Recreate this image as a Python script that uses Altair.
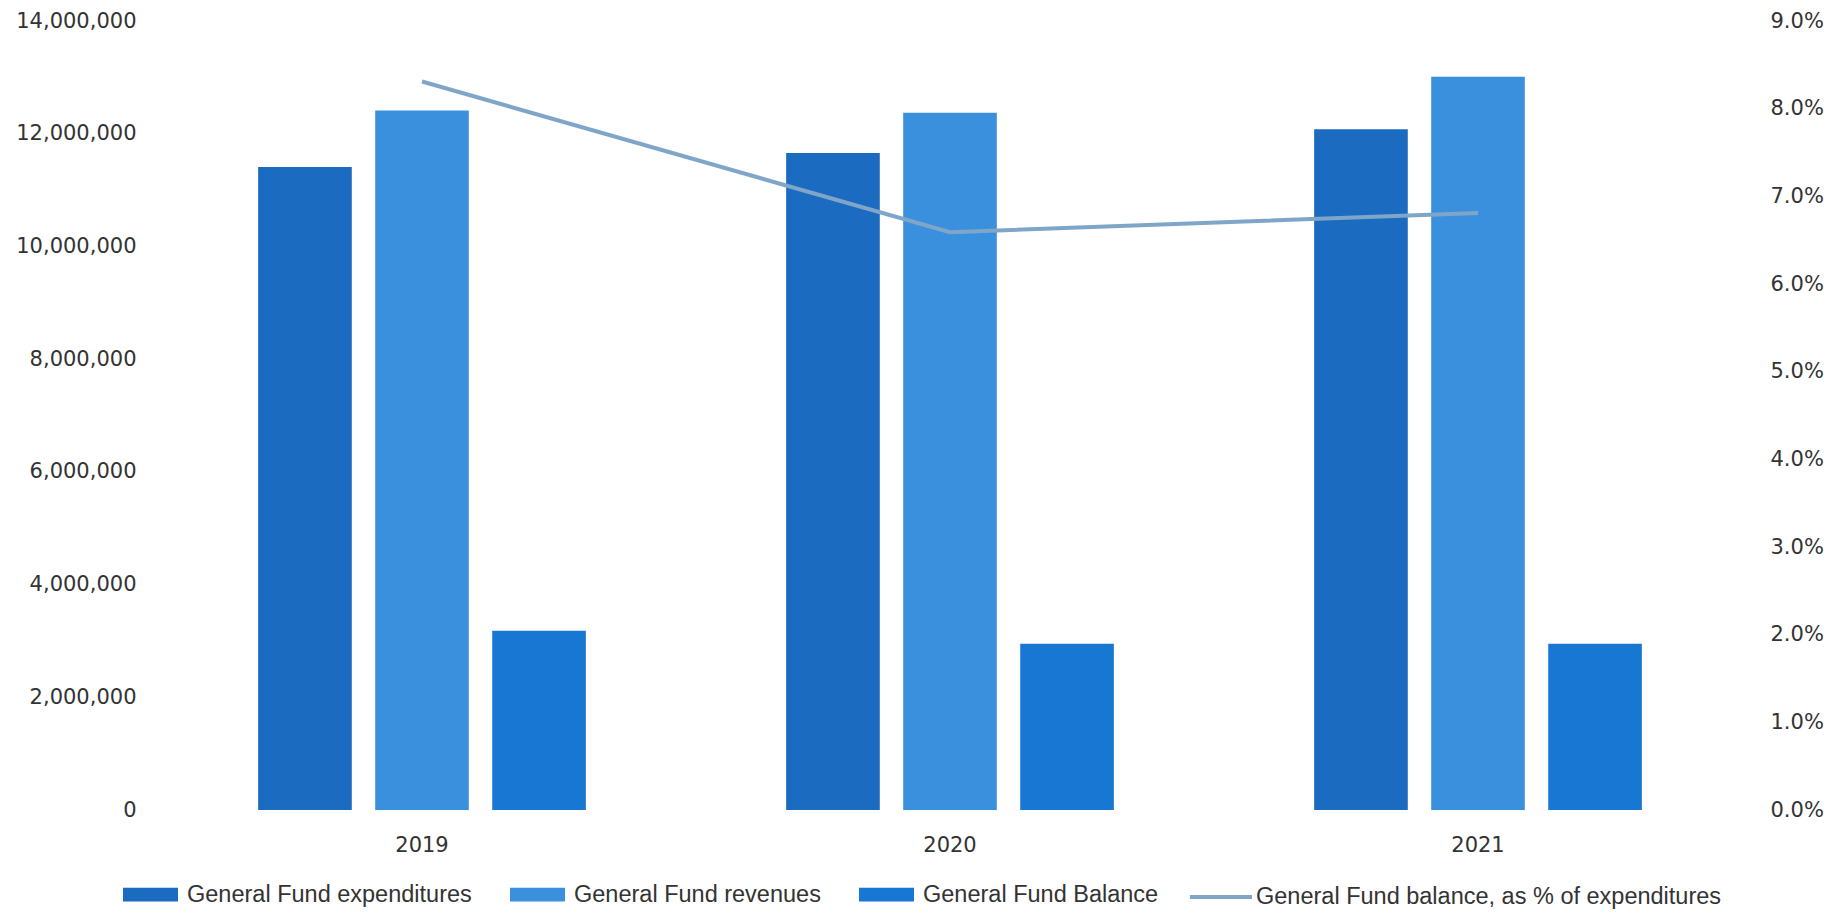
import altair as alt
import pandas as pd

years = ["2019", "2020", "2021"]
expenditures = [11410000, 11660000, 12080000]
revenues = [12410000, 12370000, 13010000]
balance = [3180000, 2950000, 2950000]
balance_pct = [0.0831, 0.0659, 0.0681]

series_names = ["General Fund expenditures", "General Fund revenues", "General Fund Balance"]
series_colors = ["#1b6bc0", "#3a90dc", "#1877d2"]
line_name = "General Fund balance, as % of expenditures"
line_color = "#7fa6c8"

left_ticks = [0, 2000000, 4000000, 6000000, 8000000, 10000000, 12000000, 14000000]
right_ticks = [0, 0.01, 0.02, 0.03, 0.04, 0.05, 0.06, 0.07, 0.08, 0.09]

rows = []
for i, yr in enumerate(years):
    for name, vals in zip(series_names, [expenditures, revenues, balance]):
        rows.append({"year": yr, "series": name, "value": vals[i]})
bars_df = pd.DataFrame(rows)
line_df = pd.DataFrame({"year": years, "pct": balance_pct, "series": [line_name] * len(years)})

AXIS_FONT = "DejaVu Sans"
LEG_FONT = "Liberation Sans"
TXT = "#333333"

x_enc = alt.X(
    "year:N",
    sort=years,
    scale=alt.Scale(paddingInner=0.335, paddingOuter=0.1675),
    axis=alt.Axis(title=None, labelAngle=0, ticks=False, domain=False,
                  labelPadding=24, labelFont=AXIS_FONT, labelFontSize=21,
                  labelColor=TXT),
)

bars = alt.Chart(bars_df).mark_bar().encode(
    x=x_enc,
    xOffset=alt.XOffset("series:N", sort=series_names,
                        scale=alt.Scale(paddingInner=0.2, paddingOuter=0.1)),
    y=alt.Y("value:Q",
            scale=alt.Scale(domain=[0, 14000000], nice=False),
            axis=alt.Axis(values=left_ticks, format=",.0f", grid=False, domain=False,
                          ticks=False, title=None, labelPadding=22,
                          labelFont=AXIS_FONT, labelFontSize=21, labelColor=TXT)),
    color=alt.Color("series:N", sort=series_names,
                    scale=alt.Scale(domain=series_names, range=series_colors),
                    legend=alt.Legend(orient="none", direction="horizontal",
                                      legendX=-35, legendY=846, title=None,
                                      symbolType="M-1,-0.25H1V0.25H-1Z",
                                      symbolSize=3025, symbolStrokeWidth=0,
                                      labelFont=LEG_FONT, labelFontSize=23.5,
                                      labelColor=TXT, columnPadding=38,
                                      labelOffset=9, labelLimit=600)),
)

line = alt.Chart(line_df).mark_line(strokeWidth=4).encode(
    x=alt.X("year:N", sort=years),
    y=alt.Y("pct:Q",
            scale=alt.Scale(domain=[0, 0.09], nice=False),
            axis=alt.Axis(orient="right", values=right_ticks, format=".1%",
                          grid=False, domain=False, ticks=False, title=None,
                          labelPadding=28, labelFont=AXIS_FONT, labelFontSize=21,
                          labelColor=TXT)),
    color=alt.Color("series:N",
                    scale=alt.Scale(domain=[line_name], range=[line_color]),
                    legend=alt.Legend(orient="none", direction="horizontal",
                                      legendX=1030, legendY=843, title=None,
                                      symbolType="stroke", symbolSize=3844,
                                      symbolStrokeWidth=4,
                                      labelFont=LEG_FONT, labelFontSize=23.5,
                                      labelColor=TXT, labelOffset=2,
                                      labelLimit=700)),
)

chart = alt.layer(bars, line).resolve_scale(
    y="independent", color="independent"
).resolve_legend(color="independent").properties(
    width=1584,
    height=789,
    padding={"left": 150, "top": 13, "right": 96, "bottom": 100},
    autosize=alt.AutoSizeParams(type="none"),
    background="white",
).configure_view(stroke=None)

chart.save("out.html", embed_options={"renderer": "svg", "actions": False})
